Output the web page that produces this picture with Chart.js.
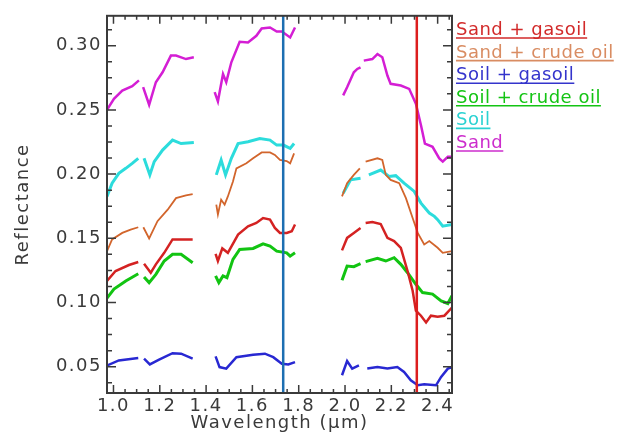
<!DOCTYPE html>
<html>
<head>
<meta charset="utf-8">
<script src="https://cdn.jsdelivr.net/npm/chart.js@4.4.1/dist/chart.umd.min.js"></script>
<style>
  html, body { margin: 0; padding: 0; background: #fff; }
  canvas { display: block; }
</style>
</head>
<body>
<canvas id="spectra" width="637" height="434"></canvas>
<script>
// wavelength (um) / reflectance, null = gap (water bands)
const sandWl = [0.972, 1.002, 1.038, 1.081, 1.110, 1.12, 1.128, 1.154, 1.183, 1.212, 1.248, 1.270, 1.313, 1.347, 1.39, 1.437, 1.451, 1.473, 1.487, 1.509, 1.545, 1.581, 1.617, 1.640, 1.676, 1.705, 1.727, 1.763, 1.784, 1.89, 1.992, 2.009, 2.038, 2.053, 2.067, 2.074, 2.081, 2.118, 2.140, 2.161, 2.183, 2.197, 2.241, 2.277, 2.306, 2.328, 2.345, 2.378, 2.407, 2.422, 2.444, 2.462];
const sandR = [0.250, 0.2587, 0.265, 0.2685, 0.273, null, 0.2677, 0.254, 0.2716, 0.2793, 0.2923, 0.2923, 0.2896, 0.291, null, 0.2639, 0.2567, 0.278, 0.2716, 0.2871, 0.3031, 0.3026, 0.3077, 0.3134, 0.3142, 0.311, 0.311, 0.3064, 0.3142, null, 0.2613, 0.2677, 0.2793, 0.2819, 0.2832, null, 0.2884, 0.2896, 0.2935, 0.291, 0.2768, 0.2703, 0.269, 0.2664, 0.2548, 0.2381, 0.2238, 0.2213, 0.2122, 0.2097, 0.2135, 0.2135];

const soilWl = [0.972, 0.994, 1.023, 1.053, 1.081, 1.107, 1.12, 1.132, 1.157, 1.176, 1.212, 1.255, 1.292, 1.347, 1.39, 1.444, 1.465, 1.484, 1.509, 1.538, 1.581, 1.632, 1.676, 1.705, 1.734, 1.763, 1.780, 1.89, 1.992, 2.024, 2.067, 2.085, 2.103, 2.154, 2.190, 2.219, 2.255, 2.299, 2.328, 2.364, 2.386, 2.400, 2.422, 2.462];
const soilR = [0.1826, 0.1929, 0.2006, 0.2045, 0.2084, 0.2123, null, 0.2123, 0.1994, 0.2097, 0.2187, 0.2265, 0.2238, 0.2246, null, 0.1994, 0.2110, 0.1994, 0.2123, 0.2238, 0.2252, 0.2277, 0.2265, 0.2226, 0.2226, 0.2200, 0.2238, null, 0.1851, 0.1955, 0.1968, null, 0.1994, 0.2032, 0.1981, 0.1988, 0.1929, 0.1865, 0.1774, 0.1697, 0.1671, 0.1645, 0.1594, 0.1607];

const sandCrudeWl = [0.972, 0.994, 1.038, 1.074, 1.107, 1.12, 1.129, 1.154, 1.190, 1.234, 1.270, 1.313, 1.342, 1.39, 1.444, 1.451, 1.465, 1.480, 1.494, 1.516, 1.531, 1.574, 1.603, 1.640, 1.676, 1.697, 1.719, 1.748, 1.763, 1.780, 1.89, 1.987, 2.009, 2.038, 2.064, 2.077, 2.089, 2.140, 2.161, 2.176, 2.197, 2.234, 2.263, 2.292, 2.314, 2.342, 2.364, 2.400, 2.422, 2.462];
const sandCrudeR = [0.140, 0.1491, 0.1542, 0.1568, 0.1586, null, 0.1586, 0.1499, 0.1633, 0.1723, 0.1813, 0.1834, 0.1844, null, 0.1762, 0.1685, 0.1801, 0.1762, 0.1826, 0.1942, 0.2045, 0.2084, 0.2123, 0.2169, 0.2169, 0.2149, 0.2110, 0.2102, 0.2084, 0.2161, null, 0.1826, 0.1929, 0.1994, 0.2045, null, 0.2097, 0.2123, 0.2110, 0.1994, 0.1955, 0.1929, 0.1813, 0.1658, 0.1542, 0.1452, 0.1478, 0.1426, 0.1387, 0.140];

const sandGasWl = [0.972, 1.009, 1.067, 1.107, 1.12, 1.132, 1.161, 1.183, 1.219, 1.255, 1.342, 1.39, 1.441, 1.451, 1.470, 1.494, 1.538, 1.581, 1.617, 1.646, 1.676, 1.697, 1.719, 1.748, 1.770, 1.784, 1.89, 1.987, 2.009, 2.038, 2.067, 2.078, 2.089, 2.118, 2.154, 2.183, 2.212, 2.241, 2.270, 2.292, 2.306, 2.328, 2.350, 2.371, 2.400, 2.429, 2.462];
const sandGasR = [0.1168, 0.1245, 0.1292, 0.1315, null, 0.1302, 0.1232, 0.1297, 0.1387, 0.1491, 0.1491, null, 0.1379, 0.1323, 0.1421, 0.1387, 0.1529, 0.1594, 0.1619, 0.1658, 0.1646, 0.1581, 0.1542, 0.1542, 0.1555, 0.1607, null, 0.1406, 0.1503, 0.1542, 0.1581, null, 0.1619, 0.1627, 0.1611, 0.1503, 0.1478, 0.1426, 0.1245, 0.1091, 0.0936, 0.0897, 0.0845, 0.0897, 0.0889, 0.0897, 0.0961];

const soilCrudeWl = [0.972, 1.002, 1.053, 1.107, 1.12, 1.132, 1.154, 1.183, 1.219, 1.255, 1.292, 1.342, 1.39, 1.441, 1.455, 1.473, 1.490, 1.516, 1.545, 1.603, 1.646, 1.676, 1.705, 1.748, 1.763, 1.784, 1.89, 1.987, 2.009, 2.038, 2.067, 2.078, 2.089, 2.140, 2.176, 2.212, 2.241, 2.270, 2.306, 2.335, 2.378, 2.415, 2.444, 2.462];
const soilCrudeR = [0.1034, 0.1104, 0.1168, 0.1224, null, 0.1199, 0.1155, 0.1219, 0.1323, 0.1375, 0.1375, 0.131, null, 0.1207, 0.1155, 0.1207, 0.1193, 0.1336, 0.1413, 0.1421, 0.1457, 0.1439, 0.140, 0.1387, 0.1361, 0.1387, null, 0.1173, 0.1284, 0.1279, 0.1302, null, 0.1318, 0.1344, 0.1323, 0.1349, 0.1297, 0.1232, 0.1142, 0.1077, 0.1065, 0.1013, 0.0992, 0.1052];

const soilGasWl = [0.973, 1.023, 1.107, 1.12, 1.132, 1.157, 1.197, 1.255, 1.292, 1.342, 1.39, 1.441, 1.458, 1.487, 1.531, 1.603, 1.654, 1.690, 1.727, 1.755, 1.784, 1.89, 1.987, 2.009, 2.031, 2.060, 2.078, 2.096, 2.140, 2.183, 2.226, 2.255, 2.284, 2.314, 2.342, 2.393, 2.415, 2.444, 2.462];
const soilGasR = [0.0510, 0.0549, 0.0567, null, 0.0562, 0.0518, 0.0555, 0.0605, 0.0601, 0.0562, null, 0.058, 0.0497, 0.0485, 0.0574, 0.0593, 0.0601, 0.0574, 0.0523, 0.0518, 0.0536, null, 0.0433, 0.0544, 0.0485, 0.051, null, 0.0485, 0.0497, 0.0485, 0.0497, 0.0459, 0.0394, 0.0355, 0.0363, 0.0355, 0.042, 0.0485, 0.0497];

// vertical marker lines
const markerWl = [1.733, 2.310];
const markerColors = ["#1d6fb2", "#dc1e1e"];

const xTicks = [1.0, 1.2, 1.4, 1.6, 1.8, 2.0, 2.2, 2.4];
const yTicks = [0.05, 0.10, 0.15, 0.20, 0.25, 0.30];
const xRange = [0.972, 2.462];
const yRange = [0.0295, 0.3233];

const legendLabels = ["Sand + gasoil", "Sand + crude oil", "Soil + gasoil", "Soil + crude oil", "Soil", "Sand"];
const legendColors = ["#d22a2a", "#d98c62", "#3434cc", "#14c414", "#2ad2d2", "#cc2ccc"];

const toPoints = (wl, r) => wl.map((w, i) => ({ x: w, y: r[i] }));

const series = [
  { label: "Sand + gasoil", data: toPoints(sandGasWl, sandGasR), color: "#d42222", width: 2.5 },
  { label: "Sand + crude oil", data: toPoints(sandCrudeWl, sandCrudeR), color: "#d2652c", width: 1.8 },
  { label: "Soil + gasoil", data: toPoints(soilGasWl, soilGasR), color: "#2828d2", width: 2.5 },
  { label: "Soil + crude oil", data: toPoints(soilCrudeWl, soilCrudeR), color: "#12c412", width: 3 },
  { label: "Soil", data: toPoints(soilWl, soilR), color: "#2cdcdc", width: 3 },
  { label: "Sand", data: toPoints(sandWl, sandR), color: "#d41ed4", width: 2.5 },
];

const datasets = [];
markerWl.forEach((w, i) => {
  datasets.push({
    label: "marker" + i,
    data: [{ x: w, y: yRange[0] }, { x: w, y: yRange[1] }],
    borderColor: markerColors[i],
    borderWidth: 2.5,
    pointRadius: 0,
  });
});
series.forEach((s) => {
  datasets.push({
    label: s.label,
    data: s.data,
    borderColor: s.color,
    borderWidth: s.width,
    pointRadius: 0,
    spanGaps: false,
    tension: 0,
  });
});

const axisColor = "#3a3a3a";

// IDL style frame with inward ticks on all 4 sides + underlined text legend
const framePlugin = {
  id: "frame",
  beforeDraw(chart) {
    chart.ctx.letterSpacing = "1.5px";
  },
  afterDraw(chart) {
    const ctx = chart.ctx;
    const a = chart.chartArea;
    const x = chart.scales.x;
    const y = chart.scales.y;
    ctx.save();
    ctx.strokeStyle = axisColor;
    ctx.lineWidth = 1.5;
    ctx.beginPath();
    for (let v = 1.0; v <= xRange[1] + 1e-9; v += 0.05) {
      const px = x.getPixelForValue(v);
      const major = Math.abs(v * 5 - Math.round(v * 5)) < 1e-6;
      const len = major ? 8 : 4;
      ctx.moveTo(px, a.bottom);
      ctx.lineTo(px, a.bottom - len);
      ctx.moveTo(px, a.top);
      ctx.lineTo(px, a.top + len);
    }
    for (let v = 0.0375; v <= yRange[1] + 1e-9; v += 0.0125) {
      const py = y.getPixelForValue(v);
      const major = Math.abs(v * 20 - Math.round(v * 20)) < 1e-6;
      const len = major ? 9 : 5;
      ctx.moveTo(a.left, py);
      ctx.lineTo(a.left + len, py);
      ctx.moveTo(a.right, py);
      ctx.lineTo(a.right - len, py);
    }
    ctx.stroke();
    ctx.lineWidth = 2;
    ctx.strokeRect(a.left, a.top, a.right - a.left, a.bottom - a.top);

    // legend
    ctx.letterSpacing = "0.5px";
    ctx.font = "18px 'DejaVu Sans'";
    ctx.textBaseline = "alphabetic";
    ctx.textAlign = "left";
    const lx = a.right + 4;
    legendLabels.forEach((t, i) => {
      const by = 35 + i * 22.6;
      ctx.fillStyle = legendColors[i];
      ctx.fillText(t, lx, by);
      const w = ctx.measureText(t).width;
      ctx.strokeStyle = legendColors[i];
      ctx.lineWidth = 1.6;
      ctx.beginPath();
      ctx.moveTo(lx, by + 3);
      ctx.lineTo(lx + w, by + 3);
      ctx.stroke();
    });
    ctx.restore();
  },
};

new Chart(document.getElementById("spectra"), {
  type: "line",
  data: { datasets: datasets },
  options: {
    responsive: false,
    animation: false,
    layout: { padding: { top: 13, right: 185, bottom: 0, left: 0 } },
    plugins: { legend: { display: false }, tooltip: { enabled: false } },
    scales: {
      x: {
        type: "linear",
        min: xRange[0],
        max: xRange[1],
        grid: { display: false, drawTicks: false },
        border: { display: false },
        afterBuildTicks: (s) => { s.ticks = xTicks.map((v) => ({ value: v })); },
        afterFit: (s) => { s.height = 41; },
        ticks: {
          autoSkip: false,
          maxRotation: 0,
          padding: 3,
          color: axisColor,
          font: { family: "DejaVu Sans", size: 18 },
          callback: (v) => Number(v).toFixed(1),
        },
        title: {
          display: true,
          text: "Wavelength (\u03bcm)",
          color: axisColor,
          padding: { top: 0, bottom: 0 },
          font: { family: "DejaVu Sans", size: 18 },
        },
      },
      y: {
        type: "linear",
        min: yRange[0],
        max: yRange[1],
        grid: { display: false, drawTicks: false },
        border: { display: false },
        afterBuildTicks: (s) => { s.ticks = yTicks.map((v) => ({ value: v })); },
        afterFit: (s) => { s.width = 107; },
        ticks: {
          autoSkip: false,
          padding: 5,
          color: axisColor,
          font: { family: "DejaVu Sans", size: 18 },
          callback: (v) => Number(v).toFixed(2),
        },
        title: {
          display: true,
          text: "Reflectance",
          color: axisColor,
          padding: { top: 13, bottom: 0 },
          font: { family: "DejaVu Sans", size: 18 },
        },
      },
    },
  },
  plugins: [framePlugin],
});
</script>
</body>
</html>
